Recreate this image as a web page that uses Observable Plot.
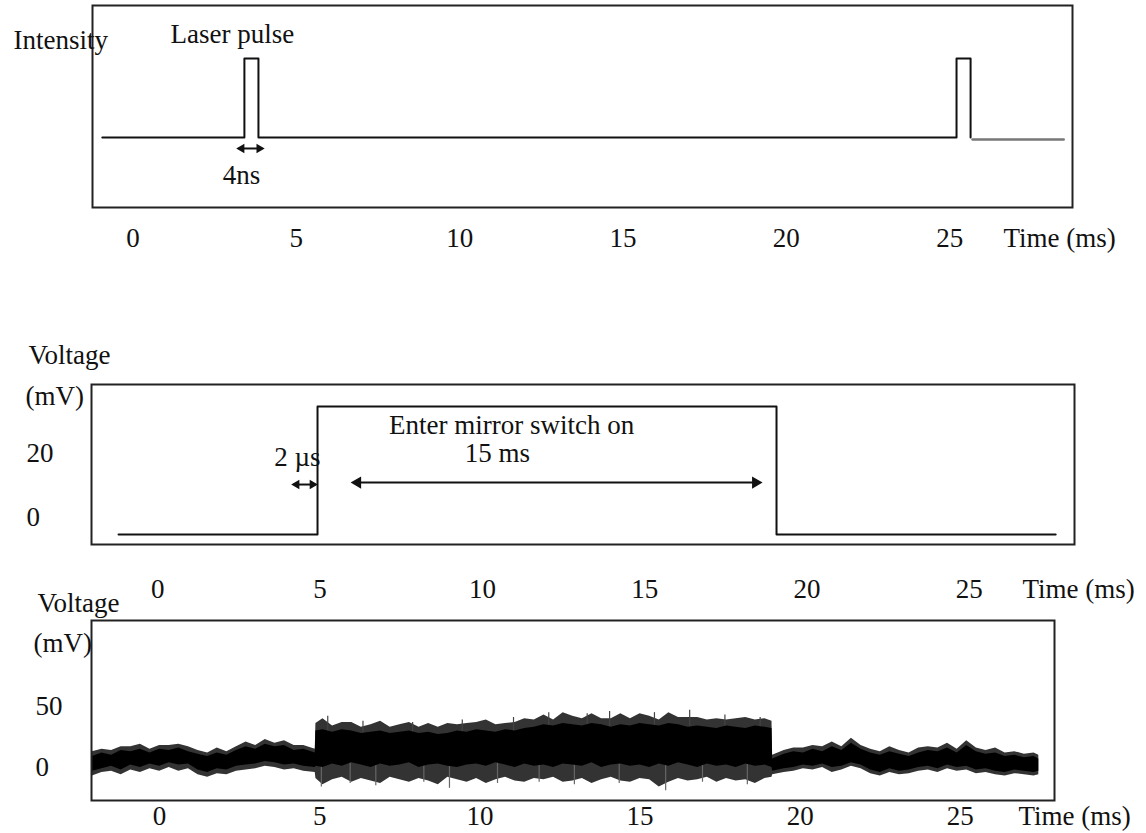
<!DOCTYPE html>
<html>
<head>
<meta charset="utf-8">
<script src="https://cdn.jsdelivr.net/npm/d3@7"></script>
<script src="https://cdn.jsdelivr.net/npm/@observablehq/plot@0.6"></script>
<style>
  html, body { margin: 0; padding: 0; background: white; }
  #wrap { position: relative; width: 1146px; height: 833px; overflow: hidden; background: white; }
  #wrap svg { position: absolute; left: 0; background: transparent !important; max-width: none !important; overflow: visible; }
</style>
</head>
<body>
<div id="wrap"></div>
<script>
// ---------- data ----------
const timeTicks = [0, 5, 10, 15, 20, 25];

// Panel 1: laser pulses (intensity, arbitrary units)
const laserTime  = [-0.94, 3.41, 3.84, 25.21, 25.64];
const laserLevel = [0, 1, 0, 1, 0];
const laserTailTime  = [25.7, 28.49];
const laserTailLevel = [-0.025, -0.025];

// Panel 2: mirror switch voltage (mV)
const mirrorTicks = [0, 20];
const mirrorTime  = [-1.21, 4.92, 19.06, 27.66];
const mirrorVolt  = [-5.3, 34.7, -5.3, -5.3];

// Panel 3: detector voltage (mV) — dense band and outer whisker envelope
const noiseTicks = [0, 50];
const noiseTime = [
  -2.1, -1.8, -1.5, -1.2, -0.9, -0.6, -0.3, 0.0, 0.3, 0.6, 0.9, 1.2, 1.5, 1.8, 2.1, 2.4, 2.7, 3.0, 3.3, 3.6, 3.9, 4.2, 4.5, 4.86,
  4.88, 5.1, 5.4, 5.7, 6.0, 6.3, 6.6, 6.9, 7.2, 7.5, 7.8, 8.1, 8.4, 8.7, 9.0, 9.3, 9.6, 9.9, 10.2, 10.5, 10.8, 11.1, 11.4, 11.7,
  12.0, 12.3, 12.6, 12.9, 13.2, 13.5, 13.8, 14.1, 14.4, 14.7, 15.0, 15.3, 15.6, 15.9, 16.2, 16.5, 16.8, 17.1, 17.4, 17.7, 18.0,
  18.3, 18.6, 18.9, 19.12,
  19.14, 19.5, 19.8, 20.1, 20.4, 20.7, 21.0, 21.3, 21.6, 21.9, 22.2, 22.5, 22.8, 23.1, 23.4, 23.7, 24.0, 24.3, 24.6, 24.9,
  25.2, 25.5, 25.8, 26.1, 26.4, 26.7, 27.0, 27.3, 27.45
];
const noiseLow = [
  -3, -1, 1, -2, 2, 0, 3, 1, 4, 2, 3, -2, -4, -1, -2, 1, 2, 3, 5, 4, 2, 3, 1, 0,
  1, 0, 3, 1, 4, 2, 0, 3, 1, 2, 4, 0, 2, 3, 1, 0, 2, 3, 1, 4, 2, 0, 3, 1,
  2, 0, 3, 2, 1, 4, 0, 2, 3, 1, 2, 0, 3, 1, 4, 2, 0, 3, 1, 2, 0,
  3, 1, 2, 0,
  -3, -1, 0, 2, 1, 3, 0, 1, 4, 2, -2, -4, -1, -3, -2, 0, 1, -1, 2, 0,
  1, -2, -1, -3, -4, -2, -3, -4, -3
];
const noiseHigh = [
  9, 12, 10, 14, 13, 15, 12, 15, 14, 16, 13, 11, 9, 12, 10, 14, 17, 15, 19, 17, 18, 14, 15, 12,
  30, 31, 29, 31, 30, 28, 29, 30, 28, 29, 30, 28, 29, 27, 28, 30, 29, 31, 30, 29, 31, 30, 32, 33,
  35, 34, 36, 35, 34, 36, 35, 33, 35, 34, 36, 35, 34, 36, 35, 33, 34, 33, 32, 34, 33,
  32, 34, 33, 32,
  7, 11, 13, 12, 15, 13, 17, 14, 20, 15, 12, 10, 13, 11, 9, 12, 14, 13, 16, 12,
  18, 13, 11, 12, 9, 10, 8, 9, 7
];
const outerLow = [
  -7, -4, -3, -6, -2, -4, -1, -3, 0, -3, -1, -6, -8, -5, -6, -3, -2, -1, 1, 0, -2, -1, -3, -4,
  -9, -14, -10, -8, -12, -9, -11, -13, -8, -10, -12, -9, -11, -14, -8, -10, -12, -9, -13, -10, -8, -11, -12, -9,
  -10, -8, -12, -11, -9, -13, -10, -8, -11, -12, -9, -10, -16, -12, -9, -11, -10, -8, -12, -9, -11,
  -10, -13, -9, -8,
  -6, -4, -3, -1, -2, 0, -4, -2, 1, -1, -5, -7, -4, -6, -5, -3, -2, -4, -1, -3,
  -2, -5, -4, -6, -7, -5, -6, -7, -6
];
const outerHigh = [
  13, 15, 14, 17, 17, 19, 15, 18, 18, 19, 17, 14, 12, 16, 13, 17, 21, 18, 23, 20, 22, 18, 18, 15,
  36, 40, 34, 37, 37, 33, 35, 38, 33, 35, 37, 33, 36, 33, 36, 35, 36, 37, 39, 35, 36, 37, 40, 39,
  43, 39, 45, 42, 40, 44, 40, 40, 44, 40, 44, 42, 39, 45, 41, 41, 41, 39, 40, 39, 40,
  41, 39, 40, 38,
  10, 14, 16, 16, 18, 17, 21, 17, 24, 18, 15, 13, 17, 14, 12, 16, 17, 16, 20, 15,
  22, 16, 14, 16, 12, 13, 11, 12, 10
];
const spikeUpTime = [5.25, 6.35, 7.9, 9.45, 11.05, 12.15, 13.35, 14.05, 15.45, 16.55, 17.65, 18.75];
const spikeUpTip  = [42, 38, 37, 39, 41, 45, 44, 46, 45, 47, 43, 41];
const spikeDownTime = [5.05, 5.95, 6.75, 8.25, 9.05, 10.55, 11.85, 12.95, 14.35, 15.8, 16.95, 18.35];
const spikeDownTip  = [-16, -13, -15, -12, -17, -13, -12, -14, -13, -19, -12, -14];

// ---------- styling ----------
const FONT = "Liberation Serif";
const FS = 27;
const INK = "#111";
const baseStyle = {fontFamily: FONT, fontSize: FS + "px", color: INK, background: "transparent", overflow: "visible"};
const T = {fontSize: FS, fontFamily: FONT, fill: INK};

function tickLabels(ticks, dy) {
  return Plot.text(ticks, {x: d => d, text: d => String(d), frameAnchor: "bottom", lineAnchor: "middle", dy, ...T});
}
function timeLabel(dx, dy) {
  return Plot.text(["Time (ms)"], {frameAnchor: "bottom-right", textAnchor: "start", lineAnchor: "middle", dx, dy, ...T});
}
function yLabels(ticks, dx) {
  return Plot.text(ticks, {y: d => d, text: d => String(d), frameAnchor: "left", textAnchor: "start", lineAnchor: "middle", dx, ...T});
}
function cornerText(txt, dx, dy) {
  return Plot.text([txt], {frameAnchor: "top-left", textAnchor: "start", lineAnchor: "middle", dx, dy, ...T});
}
function doubleArrow(x1, x2, y, r) {
  return [
    Plot.link([0], {x1, x2, y1: y, y2: y, stroke: INK, strokeWidth: 2}),
    Plot.dot([0], {x: x1, y, symbol: "triangle", rotate: -90, r, fill: INK, stroke: "none", dx: r * 0.9}),
    Plot.dot([0], {x: x2, y, symbol: "triangle", rotate: 90, r, fill: INK, stroke: "none", dx: -r * 0.9})
  ];
}

// ---------- panel 1 ----------
const p1 = Plot.plot({
  width: 1146, height: 265,
  marginLeft: 92, marginRight: 74, marginTop: 5, marginBottom: 58,
  style: baseStyle,
  x: {domain: [-1.24, 28.76], axis: null},
  y: {domain: [-0.886, 1.671], axis: null},
  marks: [
    Plot.frame({stroke: "#222", strokeWidth: 2}),
    Plot.line(laserTime, {x: laserTime, y: laserLevel, curve: "step-after", stroke: INK, strokeWidth: 2}),
    Plot.line(laserTailTime, {x: laserTailTime, y: laserTailLevel, stroke: "#777", strokeWidth: 2.5}),
    ...doubleArrow(3.23, 3.96, -0.139, 3.5),
    Plot.text(["4ns"], {x: 3.32, y: -0.48, ...T}),
    Plot.text(["Laser pulse"], {x: 3.04, y: 1.30, ...T}),
    cornerText("Intensity", -79, 35),
    tickLabels(timeTicks, 31),
    timeLabel(-69, 31)
  ]
});
p1.style.top = "0px";

// ---------- panel 2 ----------
const p2 = Plot.plot({
  width: 1146, height: 270,
  marginLeft: 91, marginRight: 72, marginTop: 44, marginBottom: 66,
  style: baseStyle,
  x: {domain: [-2.043, 28.24], axis: null},
  y: {domain: [-8.44, 41.56], axis: null},
  marks: [
    Plot.frame({stroke: "#222", strokeWidth: 2}),
    Plot.line(mirrorTime, {x: mirrorTime, y: mirrorVolt, curve: "step-after", stroke: INK, strokeWidth: 2}),
    ...doubleArrow(4.18, 4.86, 10.3, 3.5),
    ...doubleArrow(6.03, 18.54, 10.9, 4.5),
    Plot.text(["2 µs"], {x: 4.30, y: 18.75, ...T}),
    Plot.text(["Enter mirror switch on"], {x: 10.90, y: 28.75, ...T}),
    Plot.text(["15 ms"], {x: 10.46, y: 20, ...T}),
    cornerText("Voltage", -63, -29),
    cornerText("(mV)", -66, 12),
    yLabels(mirrorTicks, -65),
    tickLabels(timeTicks, 45),
    timeLabel(-52, 45)
  ]
});
p2.style.top = "340px";

// ---------- panel 3 ----------
const p3 = Plot.plot({
  width: 1146, height: 253,
  marginLeft: 91, marginRight: 92, marginTop: 40, marginBottom: 33,
  style: baseStyle,
  x: {domain: [-2.126, 27.94], axis: null},
  y: {domain: [-27.0, 120.5], axis: null},
  marks: [
    Plot.areaY(noiseTime, {x: noiseTime, y1: outerLow, y2: outerHigh, fill: "#333"}),
    Plot.ruleX(spikeUpTime, {x: spikeUpTime, y1: 20, y2: spikeUpTip, stroke: "#444", strokeWidth: 1.2}),
    Plot.ruleX(spikeDownTime, {x: spikeDownTime, y1: 5, y2: spikeDownTip, stroke: "#666", strokeWidth: 1.2}),
    Plot.areaY(noiseTime, {x: noiseTime, y1: noiseLow, y2: noiseHigh, fill: "#000"}),
    Plot.frame({stroke: "#222", strokeWidth: 2}),
    cornerText("Voltage", -54, -17),
    cornerText("(mV)", -58, 23),
    yLabels(noiseTicks, -56),
    tickLabels(timeTicks, 16),
    timeLabel(-36, 16)
  ]
});
p3.style.top = "580px";

const wrap = document.getElementById("wrap");
wrap.appendChild(p1);
wrap.appendChild(p2);
wrap.appendChild(p3);
</script>
</body>
</html>
